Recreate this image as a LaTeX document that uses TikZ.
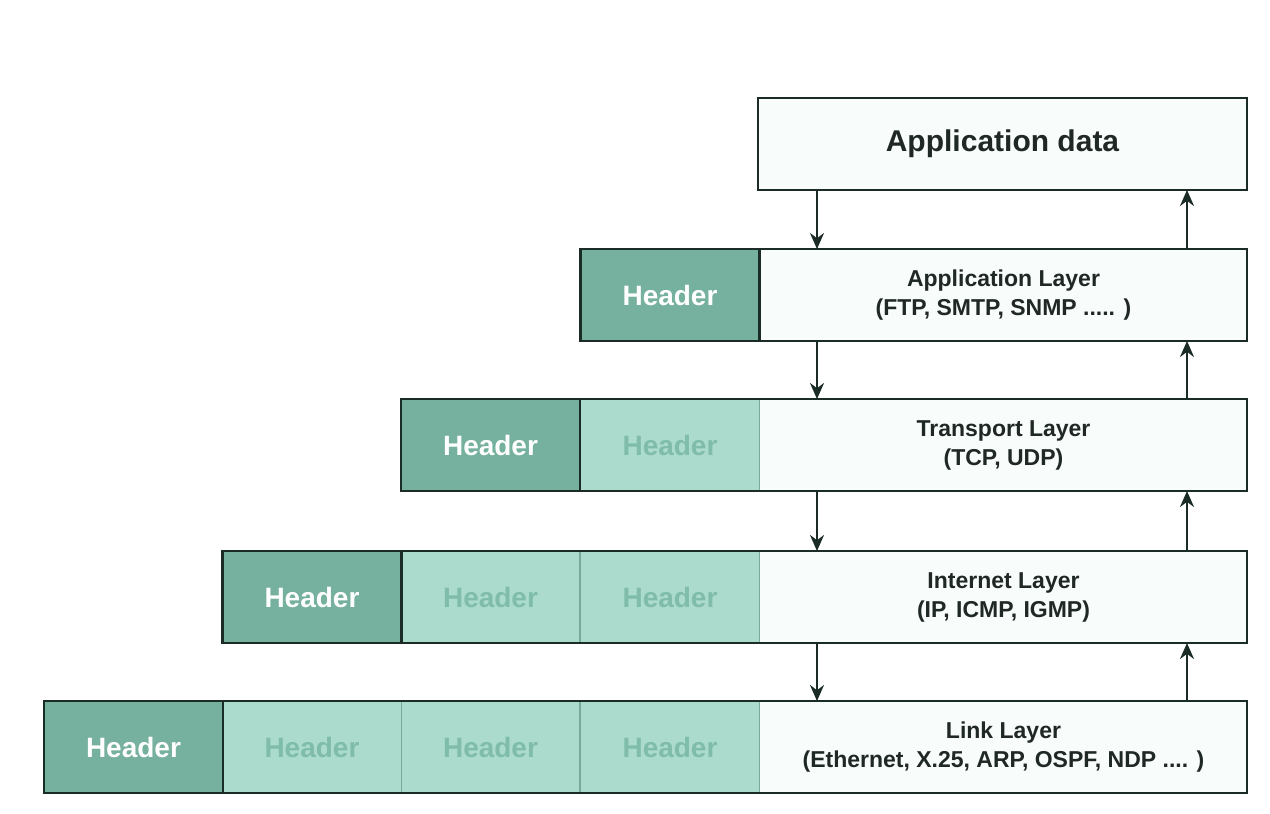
\documentclass[tikz,border=0pt]{standalone}
\usepackage{fontspec}
\setmainfont{Liberation Sans}
\usetikzlibrary{arrows.meta}
\definecolor{cedge}{RGB}{27,43,37}
\definecolor{ctext}{RGB}{32,40,37}
\definecolor{chdr}{RGB}{118,176,158}
\definecolor{clight}{RGB}{170,219,205}
\definecolor{clighttext}{RGB}{128,188,170}
\definecolor{csep}{RGB}{120,170,155}
\definecolor{cpaper}{RGB}{248,252,251}

\begin{document}
\begin{tikzpicture}[x=0.5pt,y=-0.5pt, inner sep=0pt, outer sep=0pt,
  hdr/.style={fill=chdr, text=white, minimum width=89.5pt, minimum height=46pt,
    font=\bfseries\fontsize{14}{16}\selectfont},
  oldhdr/.style={draw=csep, line width=0.6pt, fill=clight, text=clighttext,
    minimum width=89.5pt, minimum height=46pt, font=\bfseries\fontsize{14}{16}\selectfont},
  payload/.style={fill=cpaper, text=ctext, minimum width=243.5pt, minimum height=46pt, align=center,
    font=\bfseries\fontsize{11.5}{14.5}\selectfont},
  frame/.style={draw=cedge, line width=1.4pt},
  flow/.style={draw=cedge, line width=1.1pt, -{Stealth[length=8pt,width=7pt]}}]
  \useasboundingbox (0,0) rectangle (1270,814);

  % data on top
  \node[payload, frame, minimum width=244.5pt, font=\bfseries\fontsize{15}{17}\selectfont]
    (appdata) at (1002.5,144) {Application data};

  % application layer
  \node[payload] (papp) at (1003.5,295) {Application Layer\\(FTP, SMTP, SNMP ..... )};
  \node[hdr] (happ) at (670,295) {Header};
  \draw[frame] (happ.north west) rectangle (papp.south east);
  \draw[frame] (happ.north east) -- (happ.south east);

  % transport layer
  \node[payload] (ptrn) at (1003.5,445) {Transport Layer\\(TCP, UDP)};
  \node[oldhdr] (htrn1) at (670,445) {Header};
  \node[hdr] (htrn) at (490.5,445) {Header};
  \draw[frame] (htrn.north west) rectangle (ptrn.south east);
  \draw[frame] (htrn.north east) -- (htrn.south east);

  % internet layer
  \node[payload] (pint) at (1003.5,597) {Internet Layer\\(IP, ICMP, IGMP)};
  \node[oldhdr] (hint1) at (670,597) {Header};
  \node[oldhdr] (hint2) at (490.5,597) {Header};
  \node[hdr] (hint) at (312,597) {Header};
  \draw[frame] (hint.north west) rectangle (pint.south east);
  \draw[frame] (hint.north east) -- (hint.south east);

  % link layer
  \node[payload] (plnk) at (1003.5,747) {Link Layer\\(Ethernet, X.25, ARP, OSPF, NDP .... )};
  \node[oldhdr] (hlnk1) at (670,747) {Header};
  \node[oldhdr] (hlnk2) at (490.5,747) {Header};
  \node[oldhdr] (hlnk3) at (312,747) {Header};
  \node[hdr] (hlnk) at (133.5,747) {Header};
  \draw[frame] (hlnk.north west) rectangle (plnk.south east);
  \draw[frame] (hlnk.north east) -- (hlnk.south east);

  % down and up
  \coordinate (dnx) at (817,0);
  \coordinate (upx) at (1187,0);
  \draw[flow] (appdata.south -| dnx) -- (papp.north -| dnx);
  \draw[flow] (papp.south -| dnx) -- (ptrn.north -| dnx);
  \draw[flow] (ptrn.south -| dnx) -- (pint.north -| dnx);
  \draw[flow] (pint.south -| dnx) -- (plnk.north -| dnx);
  \draw[flow] (plnk.north -| upx) -- (pint.south -| upx);
  \draw[flow] (pint.north -| upx) -- (ptrn.south -| upx);
  \draw[flow] (ptrn.north -| upx) -- (papp.south -| upx);
  \draw[flow] (papp.north -| upx) -- (appdata.south -| upx);

\end{tikzpicture}
\end{document}
